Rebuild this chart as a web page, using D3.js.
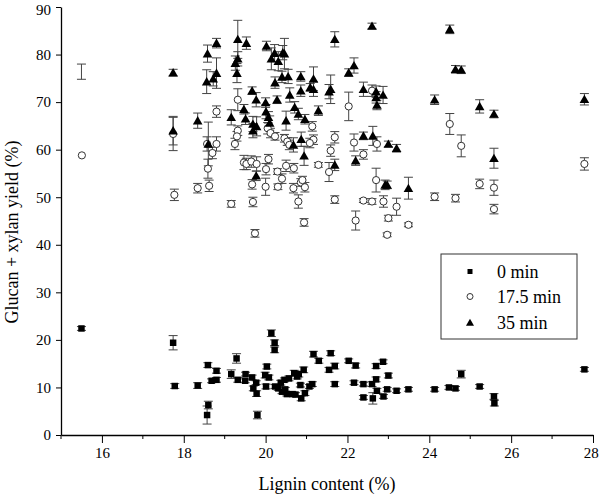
<!DOCTYPE html>
<html><head><meta charset="utf-8">
<script src="https://cdn.jsdelivr.net/npm/d3@7"></script>
<style>body{margin:0;background:#fff}svg{display:block}</style>
</head><body>
<svg id="c" width="600" height="497"></svg>
<script>
// ---- data ----
const seriesNames = ["0 min", "17.5 min", "35 min"];
const xTicks = [16, 18, 20, 22, 24, 26, 28];
const yTicks = [0, 10, 20, 30, 40, 50, 60, 70, 80, 90];

// 0 min: [lignin, yield, sd]
const min0 = [
[15.5,22.4,0.4],[17.74,19.4,1.5],[17.78,10.3,0.5],[18.34,10.4,0.6],[18.59,14.7,0.5],[18.6,6.3,0.8],[18.57,4.2,1.9],
[18.68,11.4,0.4],[18.8,13.5,0.5],[18.8,11.6,0.5],[19.16,12.8,0.9],[19.29,16.1,1.0],[19.32,11.6,0.5],[19.51,12.8,0.4],
[19.5,11.4,0.4],[19.67,12.1,0.5],[19.7,9.8,0.5],[19.77,11.0,0.4],[19.78,8.7,0.6],[19.8,4.2,0.8],[19.99,12.6,0.6],
[20.03,14.4,0.5],[20.01,10.2,0.5],[20.08,12.1,0.5],[20.14,21.4,0.7],[20.22,19.4,0.6],[20.22,17.9,0.6],[20.23,10.2,0.4],
[20.31,9.8,0.4],[20.37,11.0,0.5],[20.4,9.1,0.4],[20.46,11.6,0.4],[20.48,9.6,0.4],[20.52,8.6,0.4],[20.57,11.9,0.5],
[20.66,8.6,0.4],[20.7,13.0,0.6],[20.73,8.5,0.4],[20.77,12.3,0.5],[20.81,12.8,0.6],[20.85,10.5,0.4],[20.87,7.7,0.5],
[20.93,13.7,0.6],[20.96,8.8,0.5],[21.07,10.2,0.4],[21.14,10.7,0.5],[21.17,17.0,0.6],[21.3,15.6,0.5],[21.55,13.7,0.5],
[21.59,17.2,0.5],[21.69,14.5,0.6],[21.69,10.7,0.5],[22.03,15.6,0.4],[22.16,11.0,0.4],[22.2,14.6,0.5],[22.39,10.7,0.4],
[22.39,7.9,0.4],[22.6,10.7,0.5],[22.62,7.7,1.2],[22.7,11.7,0.5],[22.7,14.5,0.5],[22.72,9.3,0.5],[22.87,15.4,0.4],
[22.88,8.1,0.4],[22.97,9.6,0.4],[23.0,12.5,0.5],[23.2,9.3,0.4],[23.49,9.6,0.4],[24.13,9.6,0.4],[24.48,10.0,0.4],
[24.64,9.8,0.4],[24.78,12.8,0.8],[25.23,10.2,0.4],[25.58,8.1,0.6],[25.59,6.7,0.6],[27.79,13.8,0.4]
];
// 17.5 min
const min17 = [
[15.51,58.8,0],[17.77,50.5,1.2],[17.74,63.3,3.5],[18.34,51.9,1.0],[18.59,56.0,2.0],[18.62,52.4,1.2],[18.57,61.2,1.5],
[18.7,59.3,1.2],[18.8,61.2,1.5],[18.8,68.0,1.2],[19.16,48.6,0.7],[19.25,61.2,1.2],[19.32,70.5,2.3],[19.32,64.0,1.0],
[19.3,62.8,1.0],[19.47,57.3,1.5],[19.53,57.0,1.2],[19.65,57.5,1.2],[19.67,52.7,1.0],[19.69,49.0,1.0],[19.74,42.4,0.8],
[19.78,57.0,1.5],[20.0,52.2,1.8],[20.01,55.9,1.2],[20.07,58.0,1.0],[20.05,64.5,1.2],[20.12,63.5,1.0],[20.23,62.8,0.8],
[20.3,52.2,0.6],[20.29,55.4,0.6],[20.4,53.9,1.0],[20.46,62.4,0.8],[20.5,56.6,1.2],[20.53,61.7,0.8],[20.58,61.0,1.0],
[20.69,56.1,1.0],[20.68,51.9,1.0],[20.8,49.1,1.4],[20.86,53.1,0.8],[20.9,53.6,0.8],[20.96,52.1,1.0],[20.94,44.7,0.8],
[21.14,64.9,1.0],[21.17,62.1,1.0],[21.08,61.4,1.0],[21.29,56.8,0.5],[21.55,55.3,2.0],[21.59,59.8,1.2],[21.69,62.6,1.2],
[21.69,49.5,0.8],[22.03,69.1,3.0],[22.16,61.5,1.8],[22.2,45.1,2.0],[22.39,59.0,1.0],[22.39,49.3,0.4],[22.6,49.1,0.6],
[22.6,72.4,1.2],[22.7,53.6,2.5],[22.72,61.2,1.5],[22.88,49.1,1.2],[22.97,42.1,0.4],[23.0,45.6,0.6],[23.2,48.0,1.8],
[23.49,44.2,0.4],[24.13,50.1,0.8],[24.5,65.4,2.2],[24.64,49.8,0.8],[24.78,60.8,2.3],[25.23,52.8,1.0],[25.58,52.0,1.6],
[25.58,47.5,1.0],[27.79,57.0,1.3]
];
// 35 min
const min35 = [
[17.74,76.2,0.7],[17.74,64.0,3.0],[18.34,66.1,1.6],[18.58,80.2,1.8],[18.56,74.3,2.5],[18.6,61.2,4.6],[18.72,74.9,1.5],
[18.8,76.1,3.2],[18.8,82.4,1.0],[19.16,66.8,1.6],[19.26,78.2,1.5],[19.32,83.2,4.0],[19.32,79.1,1.5],[19.3,76.1,2.0],
[19.47,68.5,1.0],[19.51,66.5,1.2],[19.53,82.4,1.3],[19.67,72.4,0.8],[19.69,65.4,1.6],[19.69,64.0,1.5],[19.77,70.5,1.5],
[19.78,64.9,2.0],[19.77,54.5,1.0],[20.0,69.9,1.0],[20.02,81.8,1.0],[20.01,68.0,1.5],[20.07,66.8,1.2],[20.1,65.6,1.5],
[20.14,79.1,2.3],[20.22,80.3,1.8],[20.23,74.1,1.2],[20.28,70.5,0.8],[20.31,78.6,2.0],[20.4,75.3,1.2],[20.42,80.4,1.5],
[20.46,80.2,3.2],[20.5,66.1,2.0],[20.55,75.4,1.5],[20.59,71.5,1.5],[20.68,61.0,1.5],[20.71,68.9,1.2],[20.8,67.5,1.2],
[20.86,75.4,1.0],[20.86,72.4,1.2],[20.87,62.2,1.5],[20.94,58.7,2.0],[20.96,66.4,1.0],[21.09,73.1,0.8],[21.17,74.9,2.5],
[21.17,72.7,1.5],[21.29,68.2,1.0],[21.55,72.2,1.5],[21.59,72.7,3.0],[21.69,83.2,1.6],[21.69,56.8,1.2],[22.03,76.2,0.8],
[22.16,77.7,1.6],[22.2,57.7,1.0],[22.39,72.7,1.5],[22.39,62.9,0.8],[22.6,86.0,0.6],[22.62,62.9,2.0],[22.7,72.2,1.2],
[22.7,71.0,1.2],[22.72,69.4,1.0],[22.87,71.5,1.8],[22.92,52.6,1.0],[22.97,52.6,0.8],[23.0,61.2,0.6],[23.2,60.3,0.8],
[23.49,51.9,2.3],[24.13,70.5,1.0],[24.5,85.3,0.9],[24.64,76.9,0.8],[24.78,76.8,0.8],[25.23,69.1,1.4],[25.58,67.5,0.8],
[25.58,58.2,2.1],[27.79,70.6,1.2]
];
// error bar drawn without a visible marker
const unmarked = [[15.5,76.4,1.6]];

// ---- chart ----
const FONT = "Liberation Serif, Times New Roman, DejaVu Serif, serif";
const svg = d3.select("#c");
const L = 61, R = 593, T = 7, B = 435;
const x = d3.scaleLinear().domain([15, 28]).range([L, R]);
const y = d3.scaleLinear().domain([0, 90]).range([B, T]);

// axes
const xAxis = d3.axisBottom(x).tickValues(xTicks).tickSize(8).tickPadding(4).tickSizeOuter(0);
const gx = svg.append("g").attr("transform", `translate(0,${B})`).call(xAxis);
gx.attr("font-family", FONT).attr("font-size", 15);
gx.selectAll(".tick text").filter(d => d === 28).attr("dx", "-0.15em");
gx.append("g").selectAll("line").data(d3.range(15, 28, 2)).join("line")
  .attr("x1", d => x(d)).attr("x2", d => x(d)).attr("y1", 0).attr("y2", 4).attr("stroke", "#000");
const yAxis = d3.axisLeft(y).tickValues(yTicks).tickSize(5).tickPadding(5).tickSizeOuter(0);
const gy = svg.append("g").attr("transform", `translate(${L},0)`).call(yAxis);
gy.attr("font-family", FONT).attr("font-size", 15);
gy.selectAll(".tick text").filter(d => d === 90).attr("dy", "0.5em");
svg.selectAll(".domain").attr("stroke", "#000").attr("stroke-width", 1.3);

// axis titles
svg.append("text").attr("x", 327).attr("y", 490).attr("text-anchor", "middle")
  .attr("font-family", FONT).attr("font-size", 18).text("Lignin content (%)");
svg.append("text").attr("transform", `translate(18,232) rotate(-90)`).attr("text-anchor", "middle")
  .attr("font-family", FONT).attr("font-size", 18).text("Glucan + xylan yield (%)");

// error bars
const eg = svg.append("g").attr("stroke", "#444").attr("stroke-width", 1);
function errBars(data) {
  const g = eg.append("g");
  data.filter(d => d[2] > 0).forEach(d => {
    const cx = x(d[0]), y1 = y(d[1] + d[2]), y2 = y(d[1] - d[2]);
    g.append("line").attr("x1", cx).attr("x2", cx).attr("y1", y1).attr("y2", y2);
    g.append("line").attr("x1", cx - 4.5).attr("x2", cx + 4.5).attr("y1", y1).attr("y2", y1);
    g.append("line").attr("x1", cx - 4.5).attr("x2", cx + 4.5).attr("y1", y2).attr("y2", y2);
  });
}
errBars(min0); errBars(min17); errBars(min35); errBars(unmarked);

// markers
const sq = d3.symbol().type(d3.symbolSquare).size(42);
const tri = d3.symbol().type(d3.symbolTriangle).size(40);
svg.append("g").selectAll("path").data(min0).join("path")
  .attr("d", sq).attr("transform", d => `translate(${x(d[0])},${y(d[1])})`).attr("fill", "#000");
svg.append("g").selectAll("circle").data(min17).join("circle")
  .attr("cx", d => x(d[0])).attr("cy", d => y(d[1])).attr("r", 3.6)
  .attr("fill", "#fff").attr("stroke", "#333").attr("stroke-width", 1);
svg.append("g").selectAll("path").data(min35).join("path")
  .attr("d", tri).attr("transform", d => `translate(${x(d[0])},${y(d[1]) + 1})`).attr("fill", "#000");

// legend
const lg = svg.append("g").attr("transform", "translate(441,254)");
lg.append("rect").attr("width", 136).attr("height", 85).attr("fill", "#fff").attr("stroke", "#333").attr("stroke-width", 1);
const ly = [17.5, 42.5, 68.5];
lg.append("path").attr("d", d3.symbol().type(d3.symbolSquare).size(25)).attr("transform", `translate(29,${ly[0]})`).attr("fill", "#000");
lg.append("circle").attr("cx", 29).attr("cy", ly[1]).attr("r", 3).attr("fill", "#fff").attr("stroke", "#333");
lg.append("path").attr("d", d3.symbol().type(d3.symbolTriangle).size(28)).attr("transform", `translate(29,${ly[2] + 1})`).attr("fill", "#000");
lg.selectAll("text.l").data(seriesNames).join("text").attr("class", "l")
  .attr("x", 56).attr("y", (d, i) => ly[i]).attr("dy", "0.35em")
  .attr("font-family", FONT).attr("font-size", 18).text(d => d);
</script>
</body></html>
